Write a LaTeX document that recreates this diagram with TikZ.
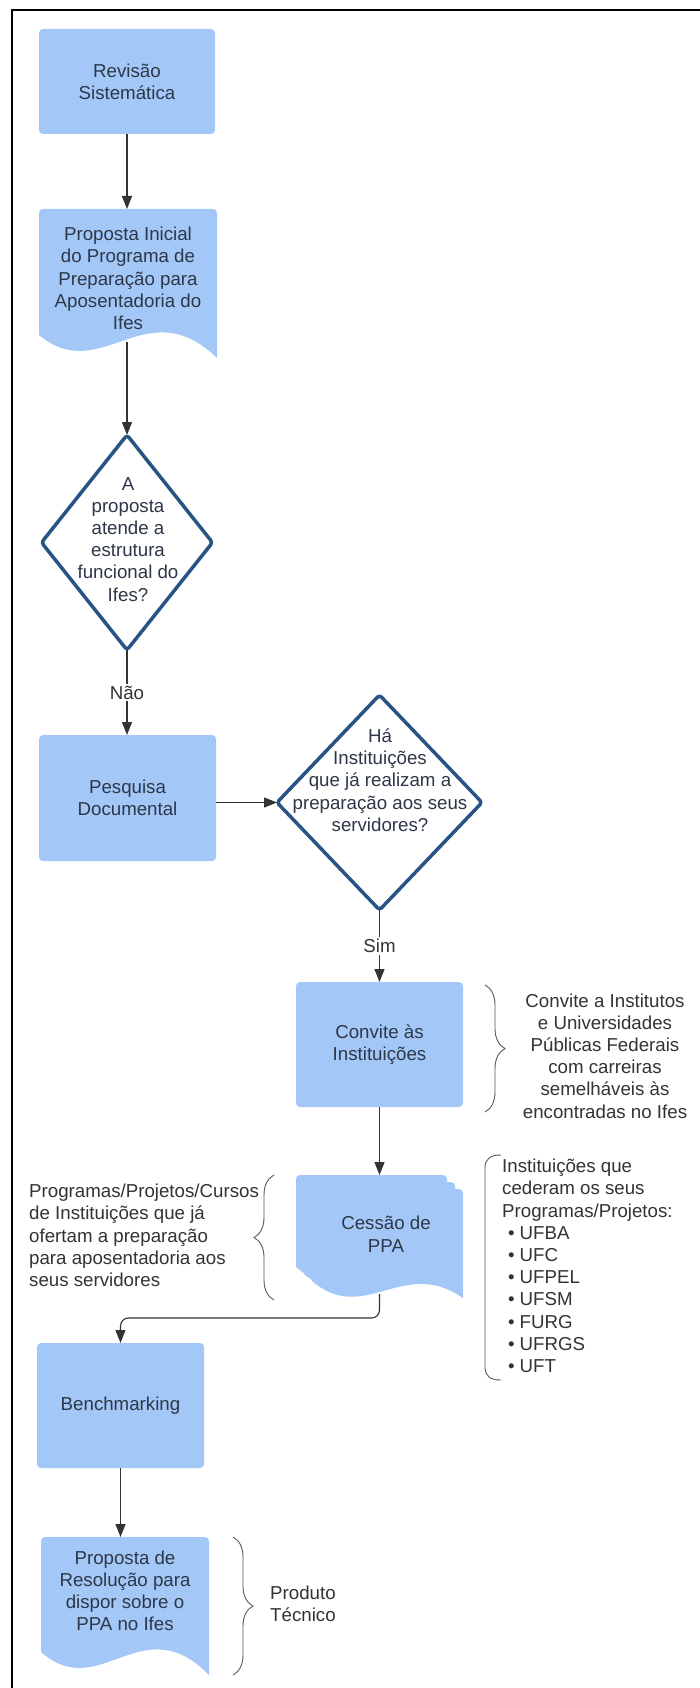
\documentclass[tikz,border=0pt]{standalone}
\usepackage{fontspec}
\setmainfont{Liberation Sans}
\usetikzlibrary{arrows.meta,shapes.geometric,decorations.pathreplacing,calc}
\definecolor{boxfill}{RGB}{163,200,247}
\definecolor{boxtext}{RGB}{45,55,72}
\definecolor{diamblue}{RGB}{40,84,133}
\definecolor{linegray}{RGB}{51,51,51}
\definecolor{notetext}{RGB}{51,51,51}
\definecolor{bracegray}{RGB}{90,90,90}
% document shape: x0 y0 w hL hR c1 c2
\newcommand\mydoc[7]{%
  \fill[boxfill] ({#1+#3},{#2+#5}) .. controls ({#1+0.6*#3},{#2+#4+#7}) and ({#1+0.35*#3},{#2+#4+#6}) .. (#1,{#2+#4})
    [rounded corners=4pt] -- (#1,#2) -- ({#1+#3},#2) [sharp corners] -- cycle;
}
\begin{document}
\begin{tikzpicture}[x=1pt,y=-1pt,
  every node/.style={font=\fontsize{18.7}{22.2}\selectfont},
  procbox/.style={fill=boxfill, rounded corners=4pt, inner sep=0pt, outer sep=0pt, text=boxtext, align=center},
  doctext/.style={text=boxtext, align=center, inner sep=0pt},
  decision/.style={diamond, draw=diamblue, line width=3.5pt, line join=round, rounded corners=3pt, inner sep=0pt, outer sep=0pt},
  note/.style={text=notetext, inner sep=0pt},
  arr/.style={draw=linegray, line width=1.1pt, -{Triangle[width=10pt,length=13pt]}},
  edgelabel/.style={fill=white, text=notetext, inner sep=2pt},
  bracebr/.style={draw=bracegray, line width=0.9pt, decorate, decoration={brace, amplitude=20pt}},
]
\useasboundingbox (0,0) rectangle (700,1688);
\fill[white] (0,0) rectangle (700,1688);
% frame
\draw[line width=1.8pt] (700,10) -- (12,10) -- (12,1688);

% Revisao
\node[procbox, minimum width=176pt, minimum height=105pt] (rev) at (127,81.5) {Revisão\\Sistemática};

% Proposta inicial (document)
\mydoc{39}{209}{178}{126}{149}{52}{-46}
\coordinate (p1top) at (127,209);
\coordinate (p1bot) at (127,342);
\node[doctext] (p1) at (128,278.4) {Proposta Inicial\\do Programa de\\Preparação para\\Aposentadoria do\\Ifes};

% decision 1
\node[decision, minimum width=171pt, minimum height=215pt] (d1) at (127,542.5) {};
\node[doctext] (d1t) at (128,539.3) {A\\proposta\\atende a\\estrutura\\funcional do\\Ifes?};

% Pesquisa
\node[procbox, minimum width=177pt, minimum height=126pt] (pesq) at (127.5,798) {Pesquisa\\Documental};

% decision 2
\node[decision, minimum width=205pt, minimum height=215pt] (d2) at (379.5,802.5) {};
\node[doctext] (d2t) at (380,780) {Há\\Instituições\\que já realizam a\\preparação aos seus\\servidores?};

% Convite
\node[procbox, minimum width=167pt, minimum height=125pt] (conv) at (379.5,1044.5) {Convite às\\Instituições};
\node[note, align=center] (convnote) at (605,1055.9) {Convite a Institutos\\e Universidades\\Públicas Federais\\com carreiras\\semelháveis às\\encontradas no Ifes};
\draw[bracebr] (485,985) -- (485,1112);

% Cessao de PPA (multiple documents)
\mydoc{312}{1189}{151}{92}{109}{45}{-25}
\mydoc{304}{1182}{151}{92}{109}{45}{-25}
\mydoc{296}{1175}{151}{92}{109}{45}{-25}
\coordinate (cesstop) at (379.5,1175);
\coordinate (cessbot) at (379.5,1294);
\node[doctext] (cess) at (386,1234.3) {Cessão de\\PPA};
\node[note, align=left, anchor=west] (cessnote) at (29,1235.4) {Programas/Projetos/Cursos\\de Instituições que já\\ofertam a preparação\\para aposentadoria aos\\seus servidores};
\draw[bracebr] (274,1300) -- (274,1175);
\node[note, align=left, anchor=west] (listnote) at (502,1265.9) {Instituições que\\cederam os seus\\Programas/Projetos:\\\hspace*{6pt}•\hspace{5pt}UFBA\\\hspace*{6pt}•\hspace{5pt}UFC\\\hspace*{6pt}•\hspace{5pt}UFPEL\\\hspace*{6pt}•\hspace{5pt}UFSM\\\hspace*{6pt}•\hspace{5pt}FURG\\\hspace*{6pt}•\hspace{5pt}UFRGS\\\hspace*{6pt}•\hspace{5pt}UFT};
\draw[draw=bracegray, line width=0.9pt] (501,1155) .. controls (490,1155) and (485,1159) .. (485,1168) -- (485,1367) .. controls (485,1376) and (490,1380) .. (501,1380);

% Benchmarking
\node[procbox, minimum width=167pt, minimum height=125pt] (bench) at (120.5,1405.5) {Benchmarking};

% Proposta de Resolucao (document)
\mydoc{41}{1537}{168}{115}{138}{52}{-46}
\coordinate (p2top) at (120.5,1537);
\node[doctext] (p2) at (125,1590.9) {Proposta de\\Resolução para\\dispor sobre o\\PPA no Ifes};
\node[note, align=left, anchor=west] (prodnote) at (270,1603.4) {Produto\\Técnico};
\draw[bracebr] (233,1537) -- (233,1675);

% connectors
\draw[arr] (rev.south) -- (p1top);
\draw[arr] (p1bot) -- (d1.north);
\draw[arr] (d1.south) -- node[edgelabel] {Não} (d1.south |- pesq.north);
\draw[arr] (pesq.east |- d2.west) -- (d2.west);
\draw[arr] (d2.south) -- node[edgelabel] {Sim} (conv.north);
\draw[arr] (conv.south) -- (cesstop);
\draw[arr, rounded corners=8pt] (cessbot) |- ([yshift=25pt]bench.north) -- (bench.north);
\draw[arr] (bench.south) -- (p2top);
\end{tikzpicture}
\end{document}
